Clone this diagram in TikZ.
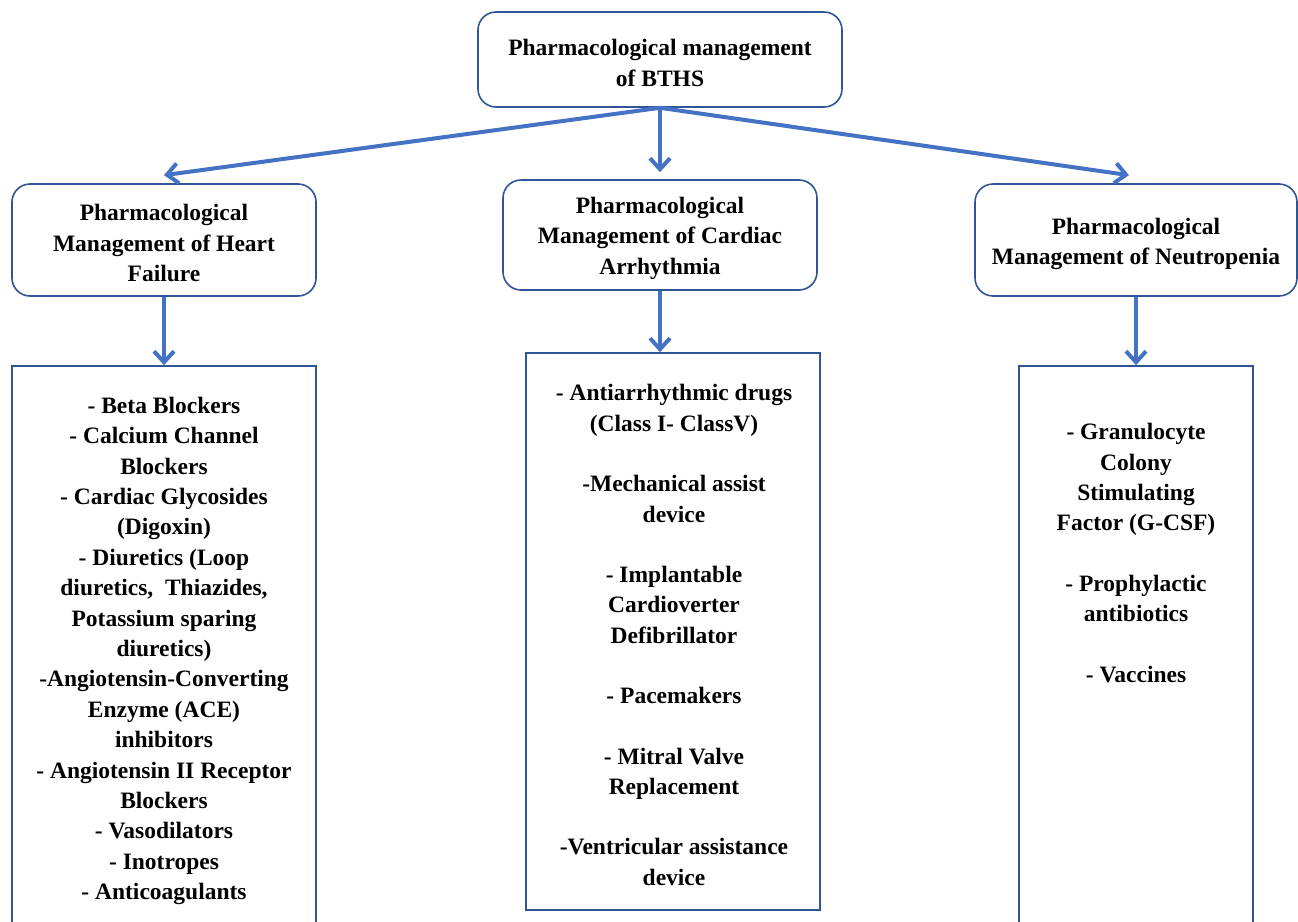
\documentclass[tikz,border=0pt]{standalone}
\usepackage{fontspec}
\setmainfont{Liberation Serif}
\usetikzlibrary{arrows.meta}
\definecolor{arr}{HTML}{4472C4}
\definecolor{bord}{HTML}{2F5597}
\begin{document}
\begin{tikzpicture}[x=1pt,y=-1pt,
  hbox/.style={draw=bord,line width=1.6pt,rounded corners=18pt,fill=white,inner sep=0pt},
  lbox/.style={draw=bord,line width=1.6pt,fill=white,inner sep=0pt},
  txt/.style={font=\fontsize{23.5}{30.4}\selectfont\bfseries,align=center,inner sep=0pt},
  conn/.style={draw=arr,line width=4pt,-{Straight Barb[length=11pt,width=20pt]}}]
\useasboundingbox (0,0) rectangle (1298,921);
\clip (0,0) rectangle (1298,921);
% header boxes
\node[hbox,minimum width=364pt,minimum height=95pt] (top) at (660,59.5) {};
\node[hbox,minimum width=304pt,minimum height=112pt] (hl) at (164,240) {};
\node[hbox,minimum width=314pt,minimum height=110pt] (hm) at (660,235) {};
\node[hbox,minimum width=322pt,minimum height=112pt] (hr) at (1136,240) {};
% list boxes
\node[lbox,minimum width=304pt,minimum height=580pt] (ll) at (164,656) {};
\node[lbox,minimum width=294pt,minimum height=557pt] (lm) at (673,631.5) {};
\node[lbox,minimum width=234pt,minimum height=580pt] (lr) at (1136,656) {};
% texts
\node[txt] (ttop) at (660,63) {Pharmacological management\\of BTHS};
\node[txt] (thl) at (164,243) {Pharmacological\\Management of Heart\\Failure};
\node[txt] (thm) at (660,238) {Pharmacological\\Management of Cardiac\\Arrhythmia};
\node[txt] (thr) at (1136,244) {Pharmacological\\Management of Neutropenia};
\node[txt] (tll) at (164,651) {- Beta Blockers\\- Calcium Channel\\Blockers\\- Cardiac Glycosides\\(Digoxin)\\- Diuretics (Loop\\diuretics,\ \ Thiazides,\\Potassium sparing\\diuretics)\\-Angiotensin-Converting\\Enzyme (ACE)\\inhibitors\\- Angiotensin II Receptor\\Blockers\\- Vasodilators\\- Inotropes\\- Anticoagulants};
\node[txt] (tlm) at (674,635) {- Antiarrhythmic drugs\\(Class I- ClassV)\\[30pt]-Mechanical assist\\device\\[30pt]- Implantable\\Cardioverter\\Defibrillator\\[30pt]- Pacemakers\\[30pt]- Mitral Valve\\Replacement\\[30pt]-Ventricular assistance\\device};
\node[txt] (tlr) at (1136,553) {- Granulocyte\\Colony\\Stimulating\\Factor (G-CSF)\\[30pt]- Prophylactic\\antibiotics\\[30pt]- Vaccines};
% connectors
\draw[conn] (top.south) -- ([yshift=8pt]hl.north);
\draw[conn] (top.south) -- ([yshift=7pt]hm.north);
\draw[conn] (top.south) -- ([xshift=-7pt,yshift=8pt]hr.north);
\draw[conn] (hl.south) -- (ll.north);
\draw[conn] (hm.south) -- (hm.south |- lm.north);
\draw[conn] (hr.south) -- (lr.north);
\end{tikzpicture}
\end{document}
